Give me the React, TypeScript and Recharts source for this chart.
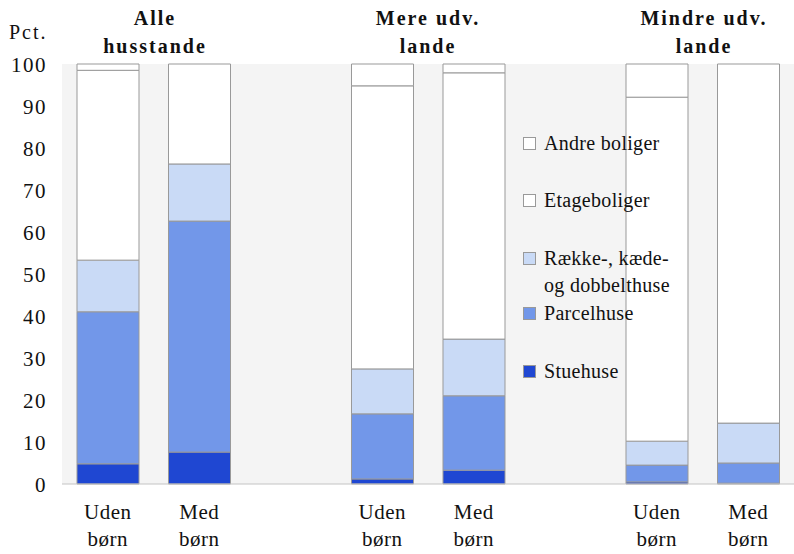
import React from 'react';
import { BarChart, Bar, XAxis, YAxis, CartesianGrid, Legend } from 'recharts';

// slots: 3 groups of 2 bars with an empty slot between groups
const slots = ['a1', 'a2', 'gap1', 'm1', 'm2', 'gap2', 'l1', 'l2'];
const barLabels = ['Uden børn', 'Med børn', '', 'Uden børn', 'Med børn', '', 'Uden børn', 'Med børn'];

const stuehuse = [4.8, 7.6, null, 1.2, 3.3, null, 0.5, 0.2];
const parcelhuse = [36.2, 55.0, null, 15.5, 17.7, null, 4.0, 4.8];
const raekkehuse = [12.3, 13.6, null, 10.7, 13.5, null, 5.7, 9.5];
const etageboliger = [45.2, 23.8, null, 67.4, 63.4, null, 81.9, 85.5];
const andreBoliger = [1.5, 0, null, 5.2, 2.1, null, 7.9, 0];

const groupTitles = [
  { lines: ['Alle', 'husstande'], x: 155 },
  { lines: ['Mere udv.', 'lande'], x: 428 },
  { lines: ['Mindre udv.', 'lande'], x: 704 },
];

const yTicks = [0, 10, 20, 30, 40, 50, 60, 70, 80, 90, 100];

const series = [
  { key: 'stuehuse', name: 'Stuehuse', color: '#1f47d2' },
  { key: 'parcelhuse', name: 'Parcelhuse', color: '#7297e9' },
  { key: 'raekke', name: 'Række-, kæde-\nog dobbelthuse', color: '#c9daf6' },
  { key: 'etage', name: 'Etageboliger', color: '#ffffff' },
  { key: 'andre', name: 'Andre boliger', color: '#ffffff' },
];

const data = slots.map((s, i) => ({
  slot: s,
  label: barLabels[i],
  stuehuse: stuehuse[i],
  parcelhuse: parcelhuse[i],
  raekke: raekkehuse[i],
  etage: etageboliger[i],
  andre: andreBoliger[i],
}));

const font = '"Liberation Serif", "DejaVu Serif", serif';

const BottomTick = (props: any) => {
  const { x, payload } = props;
  const words = (barLabels[payload.index] || '').split(' ');
  if (!words[0]) return null;
  return (
    <g>
      {words.map((w: string, i: number) => (
        <text key={i} x={x} y={519 + i * 27} textAnchor="middle" fontSize={21} letterSpacing={0.5} fill="#111" fontFamily={font}>
          {w}
        </text>
      ))}
    </g>
  );
};

const LeftTick = (props: any) => {
  const { y, payload } = props;
  return (
    <text x={47} y={y + 7.5} textAnchor="end" fontSize={21} letterSpacing={1.5} fill="#111" fontFamily={font}>
      {payload.value}
    </text>
  );
};

// legend, top to bottom
const legendTops = [130, 187, 245, 300, 358];

const LegendBox = () => {
  const items = [...series].reverse();
  return (
    <div style={{ position: 'relative', width: 220, height: 300, fontFamily: font }}>
      {items.map((s, i) => (
        <div key={s.key} style={{ position: 'absolute', left: 0, top: legendTops[i] - 120, display: 'flex', alignItems: 'flex-start' }}>
          <div
            style={{
              width: 13,
              height: 13,
              marginTop: 7,
              background: s.color,
              border: '1px solid #999',
              boxSizing: 'border-box',
            }}
          />
          <div style={{ marginLeft: 8, fontSize: 20, lineHeight: '27px', letterSpacing: 0.3, color: '#111', whiteSpace: 'pre' }}>
            {s.name}
          </div>
        </div>
      ))}
    </div>
  );
};

export default function App() {
  return (
    <div style={{ position: 'absolute', left: 0, top: 0, width: 794, height: 554, background: '#fff' }}>
      <BarChart
        width={794}
        height={554}
        data={data}
        barCategoryGap={0}
        margin={{ top: 64, right: 0, bottom: 0, left: 0 }}
      >
        <CartesianGrid horizontal={false} vertical={false} fill="#f4f4f4" />
        <XAxis
          dataKey="slot"
          interval={0}
          tick={<BottomTick />}
          tickLine={false}
          axisLine={{ stroke: '#c4c4c4' }}
          height={70}
        />
        <YAxis
          domain={[0, 100]}
          ticks={yTicks}
          width={62}
          tick={<LeftTick />}
          tickLine={false}
          axisLine={false}
        />
        {series.map((s) => (
          <Bar
            key={s.key}
            dataKey={s.key}
            name={s.name}
            stackId="a"
            fill={s.color}
            stroke="#999999"
            strokeWidth={1}
            barSize={62}
            isAnimationActive={false}
          />
        ))}
        <Legend
          layout="vertical"
          align="center"
          verticalAlign="middle"
          content={<LegendBox />}
          wrapperStyle={{ left: 523, top: 120, width: 220, height: 300 }}
        />
      </BarChart>
      <div style={{ position: 'absolute', left: 9, top: 20, fontFamily: font, fontSize: 20, lineHeight: '24px', color: '#111', letterSpacing: 2 }}>
        Pct.
      </div>
      {groupTitles.map((g, i) => (
        <div
          key={i}
          style={{
            position: 'absolute',
            left: g.x - 100,
            top: 4,
            width: 200,
            textAlign: 'center',
            fontFamily: font,
            fontWeight: 'bold',
            fontSize: 20,
            lineHeight: '28px',
            letterSpacing: 2,
            color: '#111',
          }}
        >
          {g.lines.map((l, j) => (
            <div key={j}>{l}</div>
          ))}
        </div>
      ))}
    </div>
  );
}
